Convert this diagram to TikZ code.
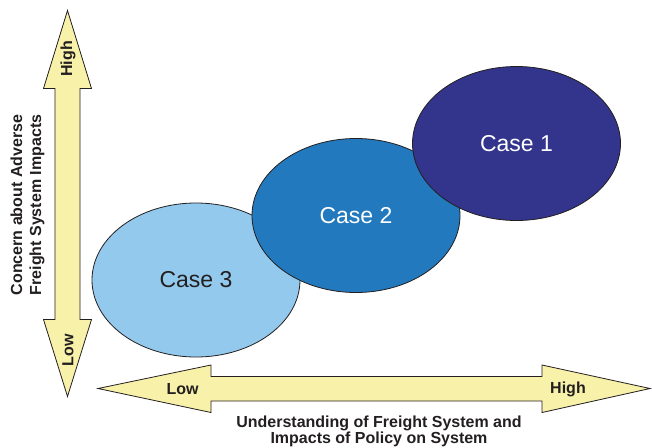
\documentclass[tikz,border=0pt]{standalone}
\usepackage{fontspec}
\setmainfont{Liberation Sans}
\usetikzlibrary{shapes.geometric}
\definecolor{axisfill}{RGB}{248,241,170}
\definecolor{outline}{RGB}{35,31,32}
\definecolor{caseone}{RGB}{51,52,140}
\definecolor{casetwo}{RGB}{34,121,190}
\definecolor{casethree}{RGB}{147,201,236}
\begin{document}
\begin{tikzpicture}[x=1pt,y=-1pt,
    axisarrow/.style={draw=outline,fill=axisfill,line width=0.8pt,line join=miter},
    axislabel/.style={font=\fontsize{16}{16}\selectfont\bfseries,text=outline,inner sep=0pt},
    caseblob/.style={ellipse,draw=outline,line width=0.8pt,minimum width=208,minimum height=154,inner sep=0pt,font=\fontsize{23}{27}\selectfont}]
    \useasboundingbox (0,0) rectangle (652,447);
    \draw[axisarrow] (67.5,10.5) -- (91.5,88.5) -- (80,88.5) -- (80,319.5) -- (91.5,319.5) -- (67.5,396.5) -- (43.5,319.5) -- (55,319.5) -- (55,88.5) -- (43.5,88.5) -- cycle;
    \draw[axisarrow] (98,388.5) -- (211,365) -- (211,376.5) -- (542,376.5) -- (542,365) -- (650,388.5) -- (542,412.5) -- (542,401) -- (211,401) -- (211,412.5) -- cycle;
    \node[axislabel,rotate=90] (yhigh) at (68,59) {High};
    \node[axislabel,rotate=90] (ylow) at (68,350) {Low};
    \node[axislabel] (xlow) at (182.5,389) {Low};
    \node[axislabel] (xhigh) at (568,389) {High};
    \node[axislabel,rotate=90,align=center,font=\fontsize{16}{19}\selectfont\bfseries] (ytitle) at (27.5,205) {Concern about Adverse\\Freight System Impacts};
    \node[axislabel,align=center] (xtitle) at (379,431) {Understanding of Freight System and\\Impacts of Policy on System};
    \node[caseblob,fill=casethree,text=outline] (case3) at (196,280) {Case 3};
    \node[caseblob,fill=casetwo,text=white] (case2) at (356,215.5) {Case 2};
    \node[caseblob,fill=caseone,text=white] (case1) at (516.5,143.5) {Case 1};
\end{tikzpicture}
\end{document}
